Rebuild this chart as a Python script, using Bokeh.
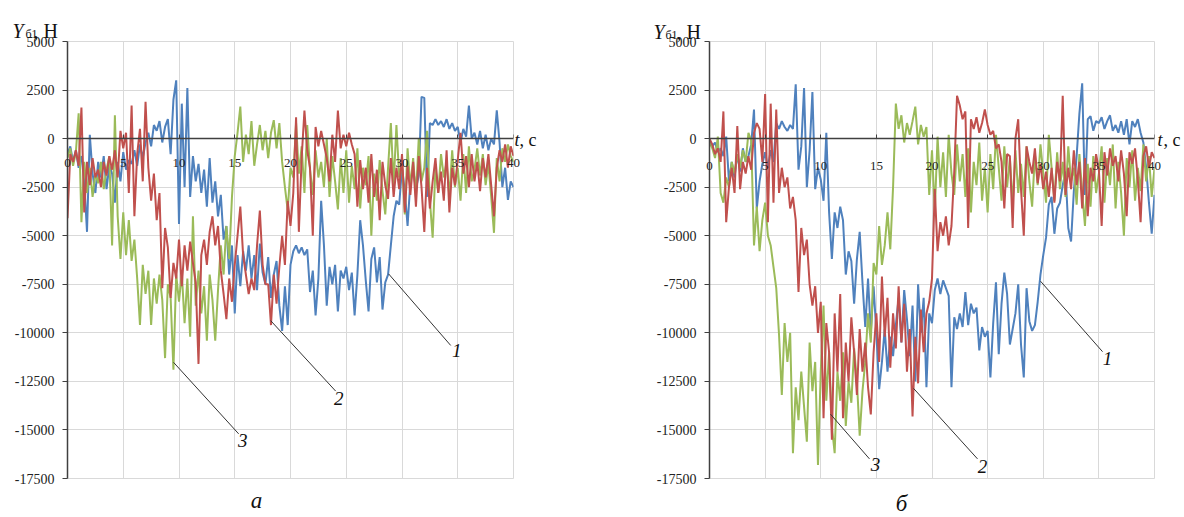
import numpy as np
from bokeh.plotting import figure
from bokeh.layouts import row
from bokeh.models import Range1d, Label, FixedTicker, PrintfTickFormatter
from bokeh.core.properties import value
from bokeh.embed import file_html
from bokeh.resources import INLINE

# ---- data (N), sampled every 0.25 s from 0 to 40 s ----
a_blue = [
    -800, -400, -1200, -600, -1500, -900, -2200, -4800, 200, -1800, -2800, -1200,
    -2000, -900, -2600, -1400, -1800, -3300, -1200, -2200, -700, -1600, -1100, -1300,
    -600, -1400, -300, -1000, -200, 300, -400, 700, 400, 900, -200, 600,
    1000, -800, 2000, 3000, -4400, 1800, -2500, 2600, -3000, -900, -2200, -1300,
    -2800, -1600, -3500, -1000, -3300, -2200, -4000, -2900, -5200, -4500, -7000, -5500,
    -9000, -6000, -7600, -5800, -6800, -5500, -7200, -6000, -7800, -5400, -6900, -7500,
    -6100, -8200, -7000, -6300, -8600, -9900, -7600, -9600, -6500, -5800, -5500, -5900,
    -5600, -6000, -5700, -7900, -6800, -9100, -7200, -3200, -5500, -8600, -6600, -7500,
    -6500, -8900, -6800, -7200, -6600, -7800, -6900, -9100, -7000, -4200, -5500, -7300,
    -8900, -6200, -5600, -7400, -6100, -8800, -7400, -7000, -5500, -4000, -3200, -3400,
    -1500, -2700, -4500, -2200, -1600, -2600, -1900, 2150, 2100, -3000, 800, 700,
    1000, 700, 900, 600, 1000, 500, 800, 400, 600, -200, 500, 100,
    1700, 0, 300, -300, 400, -500, 200, -600, 0, -300, 1450, -200,
    -2500, -1500, -3150, -2200, -2500]
a_red = [
    -4100, -800, -1200, -600, -1400, 1600, -3800, -1200, -2400, -1000, -2000, -1600,
    -2500, -1200, -1900, -900, -1600, -600, -2000, 400, -500, 300, -2800, 1700,
    -4000, -800, 500, -2200, 1900, -1500, -3200, -1800, -4200, -2800, -7700, -4600,
    -5600, -8200, -6400, -7200, -5200, -7600, -5500, -6800, -5300, -6400, -7400, -11600,
    -6000, -5200, -6500, -4800, -4000, -5500, -4500, -6800, -8000, -9300, -7200, -8400,
    -6500, -5000, -3500, -6000, -7000, -8000, -7200, -7800, -5500, -3700, -6500, -7500,
    -7500, -9600, -7000, -8500, -6600, -5000, -6500, -3200, -4500, -2800, 1100, -4800,
    -1000, 1450, -600, -1500, -5000, 600, -400, 400, -300, -1000, -2200, 200,
    -1200, 1450, -500, 200, -400, 300, -300, -800, -3500, -1100, -2600, -1500,
    -3300, -800, -3000, -1600, -4200, -1200, -2400, -3100, -1000, -3000, -1500, -2600,
    -800, -3800, -1400, -2900, -1200, -3500, -900, -2500, -4800, -1500, -3600, -2200,
    -1000, -2800, -1700, -3200, -600, -3800, -1500, -2400, -1100, 300, -1800, -900,
    -2500, -800, -2200, -1200, -2700, -1000, -2000, -800, -2400, -4000, -1500, -600,
    -1200, -300, -1500, -400, -900]
a_green = [
    -1000, -500, -1400, -700, 1300, -4300, -1200, -2800, -1500, -3000, -1800, -2300,
    -1200, -2600, -1600, -900, -5500, 1200, -4000, -6200, -3800, -6000, -4200, -6300,
    -5200, -7200, -9600, -6500, -8000, -6800, -9600, -7200, -8500, -7000, -8300, -11300,
    -7500, -8200, -11900, -7000, -8400, -6900, -9500, -7200, -10200, -4000, -8600, -6800,
    -9000, -7600, -10400, -7000, -8300, -10400, -7800, -5500, -7000, -4500, -6200, -3000,
    -900, 300, 1650, -1200, 200, -800, 900, -1400, -300, 700, -600, 400,
    -1000, 300, 950, -500, 800, -1200, -2500, -3700, -1500, -2000, 800, -1800,
    -400, -2800, 700, -1600, -2900, -600, -2000, -1200, -2500, 0, -3000, -900,
    -2200, -3650, -1000, -2800, -600, -3300, -1400, -2600, -500, -3600, -1500, -2400,
    -900, -5000, -1800, -3200, -1100, -2700, -3900, -1500, 800, -2400, 700, -2000,
    -1200, -3900, -500, -2500, -1000, -3000, 0, -2200, -1500, 400, -3200, -5100,
    -1500, -2800, -800, -2000, -1200, -3000, -600, -2500, -1500, -3200, -800, -2800,
    -400, -2200, -1600, -500, -1900, -800, -2400, -1300, -3000, -4850, -1000, -2200,
    -500, -1200, -300, -900, -1200]

b_blue = [
    -100, -400, -200, -700, -500, -900, 100, -2200, -1200, -2000, -800, -1700,
    -500, -1200, -900, -300, 1500, -3600, -2200, -1300, -700, -1500, -600, -1200,
    800, 500, 900, 600, 400, 700, 500, 2800, -1600, -400, 2600, -2500,
    -600, 2400, -2600, -1500, -2100, -3200, 300, -3800, -6200, -3800, -4600, -3500,
    -4200, -7000, -5800, -6300, -8500, -6200, -4800, -7400, -9700, -7200, -10000, -7600,
    -10000, -12900, -11500, -9800, -12000, -10200, -11200, -9600, -8200, -10500, -7800, -9300,
    -11200, -8600, -12500, -7500, -10000, -8200, -12800, -9000, -9500, -7800, -7200, -8000,
    -7300, -7700, -8100, -12800, -9200, -9800, -9000, -9700, -7900, -9600, -8500, -9000,
    -8700, -10900, -9700, -10200, -9900, -12300, -9500, -7400, -11100, -8500, -6900, -8000,
    -10600, -9800, -9000, -7500, -10600, -12300, -7700, -9400, -9900, -9600, -8400, -7000,
    -6000, -5100, -3400, -3000, -4900, -3600, -3300, -2400, -1700, -4600, -5300, -2700,
    -900, 1300, 2850, -2900, 1000, 1150, 400, 900, 800, 1100, 500, 900,
    1200, 400, 700, 300, 900, 200, 1000, -300, 900, 600, 1000, 300,
    -200, -1500, -3300, -4900, -2900]
b_red = [
    0, -300, -800, -500, -1200, 1400, -4300, -2500, -1500, -2800, 650, -2600,
    -1200, -1800, -900, -1600, 300, 800, 500, -1200, 2300, -4300, 1800, -3300,
    1500, -2800, -1500, -2500, -2000, -3600, -3000, -4200, -7900, -4600, -6000, -5200,
    -7500, -8600, -7600, -10000, -8400, -14400, -9500, -11000, -15500, -9000, -12000, -8000,
    -14400, -10500, -12500, -9200, -11000, -13200, -9800, -12000, -10500, -12800, -14200, -11000,
    -9000, -11500, -7100, -10200, -8200, -11800, -9000, -10800, -7600, -10500, -8500, -12000,
    -9800, -14300, -10200, -12600, -8800, -11000, -9000, -8400, -7200, -2600, -5800, -4300,
    -5000, -4000, -5500, -4500, -1700, 2200, 1700, 1000, 1400, -4600, 1000, 500,
    1100, 300, 800, 1500, 700, 200, 400, -500, -300, -1200, -3600, -800,
    -900, -4600, 0, 1000, -2600, -5000, -400, -1200, -1800, -500, -2300, -1300,
    -2600, -1700, -3000, -1500, -3300, -1200, -2200, 2200, -2900, -1500, -2600, -600,
    -2400, -1200, -3600, -1000, -4000, -1500, -2200, -800, -1600, -4500, -700, -1900,
    -500, -1400, -900, -2200, -600, -1800, -4000, -700, -1300, -500, -2100, -4300,
    -900, -400, -1500, -700, -1000]
b_green = [
    -200, -500, -1000, 100, -2800, -3300, -2000, -2500, -1200, -1800, -800, -1500,
    -600, -1200, 300, -100, -5500, -3500, -5800, -4200, -3300, -5000, -5500, -6600,
    -7700, -10100, -13200, -9500, -11500, -10000, -16200, -12800, -14500, -12000, -13800, -15600,
    -10500, -13000, -11500, -16800, -12000, -8600, -13500, -11000, -14800, -16200, -12000, -13500,
    -11000, -14800, -12500, -13600, -10800, -12500, -15300, -13000, -11500, -9000, -10500, -6400,
    -7000, -4500, -6500, -5500, -3800, -5700, -2500, 1800, 500, 1200, -200, 800,
    200, 900, 1650, -300, 700, 100, 600, -2900, -600, -3800, 100, -2500,
    -700, -3000, 200, -1800, -2900, -300, -2200, -800, -3000, -500, -3800, -1200,
    -2400, -200, -3200, -1500, -3800, -800, -2600, 200, -1500, -3200, -400, -2500,
    -1000, -3400, -600, -2800, -1300, -3000, -400, -2200, -3500, -800, -2400, -300,
    -1800, -3300, 200, -1500, -3200, -700, -2600, -1200, -3000, -400, -2200, -1500,
    -3400, -800, -2800, -4500, -1300, -3500, -900, -2800, -1800, -400, -3300, -1000,
    -2400, -300, -3600, -1200, -2800, -5000, -1000, -2500, -600, -3200, -1500, -2700,
    -300, -2200, -900, -3000, -1500]

for s in (a_blue, a_red, a_green, b_blue, b_red, b_green):
    assert len(s) == 161, len(s)

t = np.arange(161) * 0.25
x_ticks = [0, 5, 10, 15, 20, 25, 30, 35, 40]
y_ticks = [-17500, -15000, -12500, -10000, -7500, -5000, -2500, 0, 2500, 5000]

BLUE, RED, GREEN = "#4F81BD", "#C0504D", "#9BBB59"
SERIF = "'Liberation Serif'"
INK = "#111111"


def free_text(p, x, y, txt, size, style="normal", align="left", color=INK):
    # text placed outside the plotting frame (overlay level, not clipped)
    xs = x if isinstance(x, list) else [x]
    ys = y if isinstance(y, list) else [y]
    ts = txt if isinstance(txt, list) else [txt]
    p.text(x=xs, y=ys, text=ts, text_font=value(SERIF), text_font_size=value(size),
           text_font_style=style, text_align=align, text_baseline="alphabetic",
           text_color=color, level="overlay")


def panel(blue, red, green, callouts, caption, cap_xy, title_pos, t_pos, xlab_y,
          width, borders):
    left, right, top, bottom = borders
    p = figure(width=width, height=517, output_backend="svg", toolbar_location=None,
               x_range=Range1d(0, 40), y_range=Range1d(-17500, 5000),
               min_border_left=left, min_border_right=right,
               min_border_top=top, min_border_bottom=bottom)
    p.outline_line_color = "#d9d9d9"
    for g in (p.xgrid, p.ygrid):
        g.grid_line_color = "#d9d9d9"
        g.grid_line_width = 1
    p.xgrid.ticker = FixedTicker(ticks=x_ticks)
    p.ygrid.ticker = FixedTicker(ticks=y_ticks)

    p.yaxis.ticker = FixedTicker(ticks=y_ticks)
    p.yaxis.formatter = PrintfTickFormatter(format="%d")
    p.yaxis.axis_line_color = "#404040"
    p.yaxis.axis_line_width = 1.5
    p.yaxis.major_tick_line_color = "#404040"
    p.yaxis.major_tick_out = 5
    p.yaxis.major_tick_in = 0
    p.yaxis.minor_tick_line_color = None
    p.yaxis.major_label_text_font = SERIF
    p.yaxis.major_label_text_font_size = "14px"
    p.yaxis.major_label_text_color = "#222222"
    p.yaxis.major_label_standoff = 8

    p.xaxis.fixed_location = 0
    p.xaxis.ticker = FixedTicker(ticks=x_ticks)
    p.xaxis.axis_line_color = "#404040"
    p.xaxis.axis_line_width = 1.5
    p.xaxis.major_tick_line_color = "#404040"
    p.xaxis.major_tick_in = 4
    p.xaxis.major_tick_out = 0
    p.xaxis.minor_tick_line_color = None
    p.xaxis.major_label_text_color = None   # drawn below as unclipped text
    p.xaxis.major_label_text_font_size = "13px"

    p.line(t, blue, line_color=BLUE, line_width=2)
    p.line(t, green, line_color=GREEN, line_width=2)
    p.line(t, red, line_color=RED, line_width=2)

    # x tick labels just under the zero line
    free_text(p, list(x_ticks), [xlab_y] * len(x_ticks), [str(v) for v in x_ticks],
              "13px", align="center", color="#222222")

    for (x0, y0, x1, y1, lx, ly, txt) in callouts:
        p.segment(x0=[x0], y0=[y0], x1=[x1], y1=[y1], line_color="#333333", line_width=1)
        p.add_layout(Label(x=lx, y=ly, text=txt, text_font=SERIF, text_font_size="19px",
                           text_font_style="italic", text_align="center",
                           text_baseline="middle", text_color=INK))

    # axis title  Y_б1, Н
    (yx, yy), (sx, sy), (hx, hy) = title_pos
    free_text(p, yx, yy, "Y", "20px", "italic")
    free_text(p, sx, sy, "б1", "12px")
    free_text(p, hx, hy, ", Н", "20px")
    # t, с
    (tx1, tx2, ty) = t_pos
    free_text(p, tx1, ty, "t", "18px", "italic")
    free_text(p, tx2, ty, ", с", "18px")
    # caption
    cx, cy = cap_xy
    free_text(p, cx, cy, caption, "23px", "italic", "center")
    return p


callouts_a = [
    (28.8, -6965, 34.37, -10650, 34.92, -10900, "1"),
    (18.22, -9370, 24.05, -13000, 24.33, -13360, "2"),
    (9.51, -11520, 15.35, -15200, 15.71, -15560, "3"),
]
callouts_b = [
    (29.75, -7340, 35.33, -10970, 35.78, -11330, "1"),
    (18.34, -12860, 24.09, -16490, 24.54, -16900, "2"),
    (10.88, -14190, 14.38, -16490, 14.92, -16800, "3"),
]

# caption baselines at about 503 px from the top
pa = panel(a_blue, a_red, a_green, callouts_a, "а", (16.96, -18620),
           ((-4.93, 5564), (-3.77, 5410), (-3.05, 5564)),
           (40.09, 40.54, -61), -1240,
           600, (67, 87, 41, 36))
pb = panel(b_blue, b_red, b_green, callouts_b, "б", (17.26, -18790),
           ((-5.03, 5497), (-3.96, 5344), (-2.97, 5497)),
           (40.27, 40.81, -61), -1400,
           584, (109, 30, 38, 39))

layout = row(pa, pb)
open("out.html", "w").write(file_html(layout, INLINE))
